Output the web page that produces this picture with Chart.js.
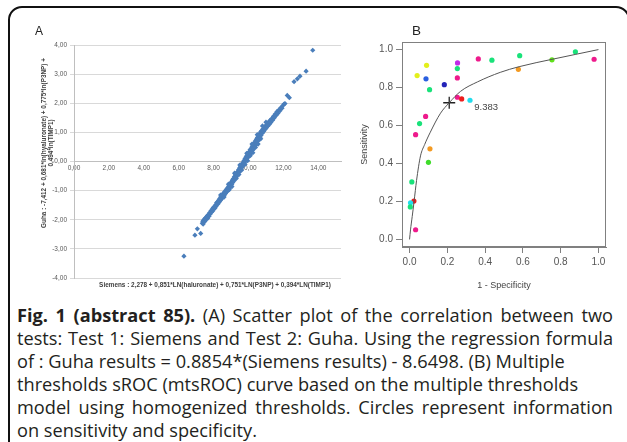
<!DOCTYPE html>
<html>
<head>
<meta charset="utf-8">
<script src="https://cdn.jsdelivr.net/npm/chart.js@4.4.1/dist/chart.umd.min.js"></script>
<style>
  html, body { margin: 0; padding: 0; background: #fff; }
  body { width: 627px; height: 442px; overflow: hidden; position: relative; font-family: "Open Sans", sans-serif; }
  .frame { position: absolute; left: 8px; top: 6px; width: 622px; height: 480px; border: 2px solid #111; border-radius: 14px; box-sizing: border-box; }
  #chartA { position: absolute; left: 0; top: 0; }
  #chartB { position: absolute; left: 345px; top: 0; }
  .panel-label { position: absolute; font-family: "Liberation Sans", Arial, sans-serif; color: #222; line-height: 1; }
  .caption { position: absolute; left: 17px; top: 304px; width: 596px; font-size: 18.2px; line-height: 23px; color: #231f20; white-space: nowrap; }
  .caption div { height: 23px; }
  .caption .full { text-align: justify; text-align-last: justify; }
  .caption b { font-weight: 700; }
</style>
</head>
<body>
<div class="frame"></div>
<canvas id="chartA" width="345" height="300"></canvas>
<canvas id="chartB" width="282" height="300"></canvas>
<div class="panel-label" style="left:35px; top:25px; font-size:12px;">A</div>
<div class="panel-label" style="left:412px; top:24px; font-size:13.5px;">B</div>
<div class="caption">
  <div class="full"><b>Fig. 1 (abstract 85).</b> (A) Scatter plot of the correlation between two</div>
  <div class="full">tests: Test 1: Siemens and Test 2: Guha. Using the regression formula</div>
  <div>of : Guha results = 0.8854*(Siemens results) - 8.6498. (B) Multiple</div>
  <div>thresholds sROC (mtsROC) curve based on the multiple thresholds</div>
  <div class="full">model using homogenized thresholds. Circles represent information</div>
  <div>on sensitivity and specificity.</div>
</div>
<script>
// Panel A - Siemens score vs Guha score
const siemensX = [6.30, 6.93, 7.07, 7.26,
  7.35, 7.38, 7.40, 7.43, 7.47, 7.50, 7.53, 7.57, 7.60, 7.64, 7.66, 7.70, 7.74, 7.77, 7.81, 7.84, 7.88, 7.91, 7.95, 7.98,
  8.02, 8.05, 8.08, 8.11, 8.14, 8.17, 8.20, 8.23, 8.26, 8.29, 8.32, 8.35, 8.38, 8.41, 8.44, 8.47, 8.50, 8.53, 8.56, 8.59, 8.62, 8.65, 8.68, 8.71, 8.74,
  8.77, 8.80, 8.83, 8.86, 8.89, 8.92, 8.95, 8.98, 9.01, 9.04, 9.07, 9.10, 9.13, 9.16, 9.19, 9.22, 9.25, 9.28, 9.31, 9.34, 9.37, 9.40, 9.43, 9.46, 9.49, 9.52, 9.55, 9.58, 9.61, 9.64, 9.67, 9.70, 9.73, 9.76,
  9.79, 9.82, 9.85, 9.88, 9.91, 9.94, 9.97, 10.00, 10.03, 10.06, 10.09, 10.12, 10.15, 10.18, 10.21, 10.24, 10.27, 10.30, 10.33, 10.36, 10.39, 10.42, 10.45, 10.48, 10.51, 10.54, 10.57, 10.60, 10.63, 10.66, 10.69, 10.72, 10.75,
  10.79, 10.83, 10.87, 10.91, 10.95, 10.99, 11.03, 11.07, 11.11, 11.15, 11.19, 11.23, 11.28, 11.33, 11.38, 11.43, 11.48, 11.53, 11.58, 11.63, 11.68, 11.74, 11.80, 11.86, 11.92, 11.98, 12.04, 12.09,
  8.60, 8.90, 9.05, 9.30, 9.45, 9.60, 9.80, 9.95, 10.10, 10.25, 10.40, 10.55, 10.70, 9.20, 9.50, 9.90, 10.20, 10.50, 10.80, 8.40, 8.85, 11.00,
  12.22, 12.34, 12.61, 12.80, 12.95, 13.30, 13.68];
const guhaY = [-3.25, -2.53, -2.31, -2.47,
  -2.12, -2.05, -2.15, -2.02, -1.98, -2.06, -1.94, -1.99, -1.90, -1.86, -1.95, -1.83, -1.88, -1.76, -1.80, -1.70, -1.74, -1.64, -1.70, -1.58,
  -1.63, -1.55, -1.60, -1.49, -1.54, -1.42, -1.48, -1.38, -1.45, -1.33, -1.39, -1.27, -1.34, -1.22, -1.30, -1.18, -1.24, -1.12, -1.19, -1.07, -1.15, -1.03, -1.10, -0.98, -1.05,
  -0.93, -1.01, -0.88, -0.95, -0.82, -0.90, -0.76, -0.84, -0.71, -0.79, -0.64, -0.72, -0.59, -0.67, -0.52, -0.61, -0.46, -0.55, -0.40, -0.49, -0.35, -0.43, -0.28, -0.37, -0.22, -0.31, -0.16, -0.25, -0.10, -0.19, -0.05, -0.13, 0.02, -0.06,
  0.09, 0.00, 0.15, 0.06, 0.21, 0.12, 0.27, 0.17, 0.33, 0.22, 0.40, 0.28, 0.45, 0.33, 0.52, 0.39, 0.58, 0.45, 0.64, 0.50, 0.70, 0.57, 0.76, 0.63, 0.82, 0.70, 0.88, 0.76, 0.94, 0.83, 1.01, 0.90, 1.06,
  0.97, 1.12, 1.03, 1.17, 1.10, 1.24, 1.16, 1.29, 1.22, 1.35, 1.27, 1.41, 1.34, 1.47, 1.42, 1.55, 1.50, 1.63, 1.58, 1.71, 1.65, 1.77, 1.74, 1.85, 1.83, 1.93, 1.97, 1.99,
  -1.22, -0.97, -0.86, -0.58, -0.45, -0.30, -0.10, 0.03, 0.20, 0.30, 0.48, 0.60, 0.78, -0.40, -0.12, 0.28, 0.60, 0.92, 1.22, -1.15, -0.78, 1.35,
  2.27, 2.19, 2.74, 2.84, 2.93, 3.10, 3.82];
const xTitleA = 'Siemens : 2,278 + 0,851*LN(haluronate) + 0,751*LN(P3NP) + 0,394*LN(TIMP1)';
const yTitleA = ['Guha : -7,412 + 0,681*ln(hyaluronate) + 0,775*ln(P3NP) +', '0,494*ln(TIMP1)'];

// Panel B - sROC
const studyFpr  = [0.09, 0.04, 0.087, 0.106, 0.184, 0.254, 0.253, 0.253, 0.364, 0.436, 0.253, 0.276, 0.32, 0.085, 0.053, 0.032, 0.108, 0.10, 0.012, 0.023, 0.005, 0.004, 0.032, 0.583, 0.576, 0.754, 0.878, 0.977];
const studySens = [0.917, 0.863, 0.846, 0.789, 0.815, 0.93, 0.90, 0.851, 0.951, 0.944, 0.749, 0.74, 0.733, 0.648, 0.61, 0.552, 0.477, 0.406, 0.303, 0.202, 0.193, 0.171, 0.051, 0.968, 0.896, 0.946, 0.988, 0.949];
const curveFpr  = [0, 0.005, 0.014, 0.024, 0.037, 0.058, 0.08, 0.11, 0.164, 0.21, 0.27, 0.36, 0.48, 0.58, 0.76, 0.88, 1.0];
const curveSens = [0, 0.05, 0.12, 0.2, 0.31, 0.44, 0.5, 0.565, 0.665, 0.72, 0.78, 0.83, 0.88, 0.91, 0.95, 0.975, 1.0];
const cutoffFpr = [0.21];
const cutoffSens = [0.72];
const cutoffLabel = '9.383';
const xTicksB = [0, 0.2, 0.4, 0.6, 0.8, 1.0];

// point colours (one per study)
const studyColors = ['#e3ef1c', '#e3ef1c', '#2a5fe0', '#19e27a', '#2424b8', '#c22ce8', '#19e27a', '#ee1a8c', '#ee1a8c', '#19e27a',
  '#ee1a8c', '#ee1c1c', '#22dcec', '#ee1a8c', '#19e27a', '#ee1a8c', '#f39a22', '#3fdc2a', '#19e27a', '#ee1c1c',
  '#22dcec', '#19e27a', '#ee1a8c', '#19e27a', '#f39a22', '#5fe01a', '#19e27a', '#ee1a8c'];

Chart.defaults.font.family = '"Liberation Sans", Arial, sans-serif';

const commaFmt = v => v.toFixed(2).replace('.', ',');

// axis titles for panel A (x axis crosses at 0, so title goes at the bottom by hand)
const titlesA = {
    id: 'titlesA',
    afterDraw(chart) {
        const ctx = chart.ctx;
        ctx.save();
        ctx.fillStyle = '#404040';
        ctx.font = 'bold 6.4px "Liberation Sans", Arial, sans-serif';
        ctx.textAlign = 'center';
        ctx.textBaseline = 'middle';
        ctx.fillText(xTitleA, 215, 285);
        ctx.translate(44, 143);
        ctx.rotate(-Math.PI / 2);
        ctx.fillText(yTitleA[0], 0, 0);
        ctx.fillText(yTitleA[1], 0, 7);
        ctx.restore();
    }
};

new Chart(document.getElementById('chartA'), {
    type: 'scatter',
    data: {
        datasets: [{
            data: siemensX.map((x, i) => ({ x: x, y: guhaY[i] })),
            pointStyle: 'rectRot',
            pointRadius: 2.6,
            backgroundColor: '#4a7ebb',
            borderWidth: 0
        }]
    },
    options: {
        responsive: false,
        animation: false,
        layout: { padding: { left: 0, top: 45, right: 4, bottom: 22 } },
        plugins: { legend: { display: false }, tooltip: { enabled: false } },
        scales: {
            x: {
                type: 'linear',
                position: { y: 0 },
                min: 0, max: 15.3,
                ticks: { stepSize: 2, includeBounds: false, padding: 3, color: '#595959', font: { size: 6.5 }, callback: commaFmt, maxRotation: 0 },
                grid: { display: false, drawTicks: false },
                border: { display: true, color: '#bfbfbf' }
            },
            y: {
                min: -4, max: 4,
                ticks: { stepSize: 1, padding: 3, color: '#595959', font: { size: 6.5 }, callback: commaFmt },
                grid: { color: '#d9d9d9', tickLength: 4 },
                border: { display: true, color: '#bfbfbf' },
                afterFit: s => { s.width = 74; }
            }
        }
    },
    plugins: [titlesA]
});

// frame + cutoff label for panel B
const boxB = {
    id: 'boxB',
    afterDraw(chart) {
        const { ctx, chartArea: a, scales } = chart;
        ctx.save();
        ctx.strokeStyle = '#808080';
        ctx.lineWidth = 1;
        ctx.strokeRect(a.left + 0.5, a.top + 0.5, a.right - a.left - 1, a.bottom - a.top - 1);
        ctx.fillStyle = '#444';
        ctx.font = '9.5px "Liberation Sans", Arial, sans-serif';
        ctx.textAlign = 'left';
        ctx.textBaseline = 'middle';
        const px = scales.x.getPixelForValue(cutoffFpr[0]);
        const py = scales.y.getPixelForValue(cutoffSens[0]);
        ctx.fillText(cutoffLabel, px + 25, py + 5);
        ctx.restore();
    }
};

new Chart(document.getElementById('chartB'), {
    type: 'scatter',
    data: {
        datasets: [
            {
                data: curveFpr.map((x, i) => ({ x: x, y: curveSens[i] })),
                showLine: true,
                borderColor: '#555',
                borderWidth: 1,
                pointRadius: 0,
                cubicInterpolationMode: 'monotone'
            },
            {
                data: studyFpr.map((x, i) => ({ x: x, y: studySens[i] })),
                pointRadius: 2.6,
                backgroundColor: studyColors,
                borderWidth: 0
            },
            {
                data: cutoffFpr.map((x, i) => ({ x: x, y: cutoffSens[i] })),
                pointStyle: 'cross',
                pointRadius: 6,
                borderColor: '#222',
                borderWidth: 1.3
            }
        ]
    },
    options: {
        responsive: false,
        animation: false,
        layout: { padding: { left: 0, top: 42, right: 21, bottom: 0 } },
        plugins: { legend: { display: false }, tooltip: { enabled: false } },
        scales: {
            x: {
                type: 'linear',
                min: -0.04, max: 1.04,
                afterBuildTicks: s => { s.ticks = xTicksB.map(v => ({ value: v })); },
                ticks: { padding: 3, color: '#555', font: { size: 10 }, callback: v => v.toFixed(1), maxRotation: 0 },
                grid: { drawOnChartArea: false, tickLength: 6, color: '#808080' },
                border: { display: true, color: '#808080' },
                title: { display: true, text: '1 - Specificity', color: '#444', font: { size: 9 }, padding: { top: 0, bottom: 9 } },
                afterFit: s => { s.height = 53; }
            },
            y: {
                min: -0.04, max: 1.04,
                afterBuildTicks: s => { s.ticks = xTicksB.map(v => ({ value: v })); },
                ticks: { padding: 3, color: '#555', font: { size: 10 }, callback: v => v.toFixed(1) },
                grid: { drawOnChartArea: false, tickLength: 6, color: '#808080' },
                border: { display: true, color: '#808080' },
                title: { display: true, text: 'Sensitivity', color: '#444', font: { size: 9 }, padding: { top: 14.6, bottom: 0 } },
                afterFit: s => { s.width = 57; }
            }
        }
    },
    plugins: [boxB]
});
</script>
</body>
</html>
